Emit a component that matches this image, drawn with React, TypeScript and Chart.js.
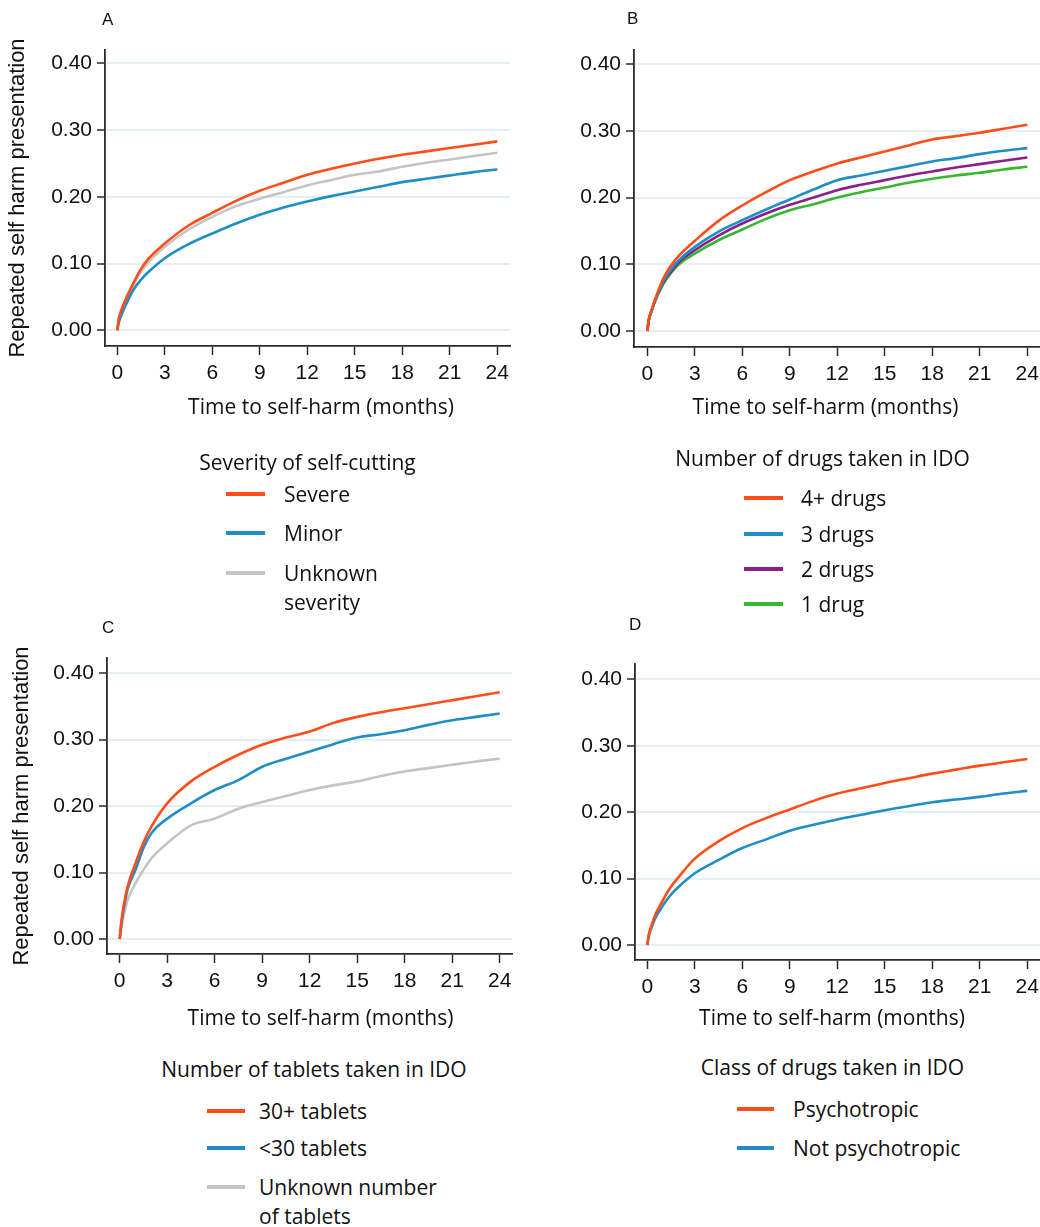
import React, { useEffect, useRef } from "react";
import { Chart, registerables } from "chart.js";

Chart.register(...registerables);

// ---------- data ----------
const TIMES = [0, 0.1, 0.25, 0.5, 1, 1.5, 2, 3, 4.5, 6, 7.5, 9, 10.5, 12, 13.5, 15, 16.5, 18, 19.5, 21, 22.5, 24];
const X_TICKS = [0, 3, 6, 9, 12, 15, 18, 21, 24];
const Y_TICKS = [0, 0.1, 0.2, 0.3, 0.4];

// Panel A: severity of self-cutting
const A_SEVERE = [0, 0.018, 0.03, 0.045, 0.07, 0.092, 0.108, 0.13, 0.157, 0.176, 0.194, 0.209, 0.221, 0.233, 0.242, 0.25, 0.257, 0.263, 0.268, 0.273, 0.278, 0.283];
const A_MINOR = [0, 0.012, 0.022, 0.036, 0.06, 0.076, 0.088, 0.108, 0.129, 0.145, 0.16, 0.173, 0.184, 0.193, 0.201, 0.208, 0.215, 0.222, 0.227, 0.232, 0.237, 0.241];
const A_UNKNOWN = [0, 0.016, 0.028, 0.043, 0.067, 0.088, 0.103, 0.125, 0.151, 0.17, 0.186, 0.197, 0.207, 0.217, 0.225, 0.233, 0.238, 0.245, 0.251, 0.256, 0.261, 0.266];

// Panel B: number of drugs taken
const B_4PLUS = [0, 0.018, 0.03, 0.048, 0.078, 0.098, 0.113, 0.135, 0.165, 0.188, 0.208, 0.226, 0.239, 0.251, 0.26, 0.269, 0.278, 0.287, 0.292, 0.297, 0.303, 0.309];
const B_3 = [0, 0.017, 0.029, 0.046, 0.074, 0.092, 0.106, 0.126, 0.149, 0.166, 0.182, 0.197, 0.212, 0.226, 0.233, 0.24, 0.247, 0.254, 0.259, 0.265, 0.27, 0.274];
const B_2 = [0, 0.017, 0.029, 0.046, 0.072, 0.089, 0.103, 0.121, 0.143, 0.161, 0.176, 0.189, 0.2, 0.211, 0.219, 0.226, 0.233, 0.239, 0.245, 0.25, 0.255, 0.26];
const B_1 = [0, 0.017, 0.028, 0.045, 0.07, 0.087, 0.1, 0.116, 0.136, 0.152, 0.168, 0.181, 0.19, 0.2, 0.208, 0.215, 0.222, 0.228, 0.233, 0.237, 0.242, 0.246];

// Panel C: number of tablets taken
const C_30PLUS = [0, 0.025, 0.05, 0.079, 0.114, 0.145, 0.169, 0.204, 0.237, 0.259, 0.277, 0.292, 0.303, 0.312, 0.325, 0.334, 0.341, 0.347, 0.353, 0.359, 0.365, 0.371];
const C_UNDER30 = [0, 0.022, 0.045, 0.075, 0.104, 0.137, 0.159, 0.181, 0.204, 0.224, 0.239, 0.259, 0.271, 0.282, 0.293, 0.303, 0.308, 0.314, 0.322, 0.329, 0.334, 0.339];
const C_UNKNOWN = [0, 0.015, 0.035, 0.059, 0.084, 0.104, 0.121, 0.144, 0.171, 0.181, 0.196, 0.206, 0.215, 0.224, 0.231, 0.237, 0.245, 0.252, 0.257, 0.262, 0.267, 0.271];

// Panel D: class of drugs taken
const D_PSYCH = [0, 0.016, 0.028, 0.045, 0.068, 0.088, 0.103, 0.13, 0.156, 0.176, 0.191, 0.204, 0.217, 0.228, 0.236, 0.244, 0.251, 0.258, 0.264, 0.27, 0.275, 0.28];
const D_NOTPSYCH = [0, 0.014, 0.025, 0.04, 0.06, 0.076, 0.088, 0.108, 0.128, 0.146, 0.159, 0.172, 0.181, 0.189, 0.196, 0.203, 0.209, 0.215, 0.219, 0.223, 0.228, 0.232];

// ---------- styles ----------
const ORANGE = "#ff4d1a";
const BLUE = "#1e8ec4";
const GRAY = "#c4c4c4";
const PURPLE = "#8a1f8c";
const GREEN = "#36b82e";

const SANS = "'Liberation Sans', Arial, sans-serif";
const HUMAN = "'Open Sans', Carlito, Calibri, Lato, sans-serif";
const TEXT_SIZE = 21;

type Series = { label: string; values: number[]; color: string };
type Panel = {
  key: string;
  canvas: { x: number; y: number; w: number; h: number };
  area: { l: number; t: number; r: number; b: number };
  x0: number; x24: number; y0: number; y40: number;
  yTitle: boolean; yTitlePad: number;
  series: Series[];
};

const PANELS: Panel[] = [
  {
    key: "A", canvas: { x: 0, y: 0, w: 520, h: 400 }, area: { l: 105, t: 50, r: 510, b: 346 },
    x0: 117.3, x24: 497.3, y0: 330.3, y40: 63.3, yTitle: true, yTitlePad: 5,
    series: [
      { label: "Severe", values: A_SEVERE, color: ORANGE },
      { label: "Minor", values: A_MINOR, color: BLUE },
      { label: "Unknown severity", values: A_UNKNOWN, color: GRAY },
    ],
  },
  {
    key: "B", canvas: { x: 520, y: 0, w: 520, h: 400 }, area: { l: 634, t: 50, r: 1040, b: 347 },
    x0: 647.3, x24: 1027.3, y0: 331, y40: 64, yTitle: false, yTitlePad: 5,
    series: [
      { label: "4+ drugs", values: B_4PLUS, color: ORANGE },
      { label: "3 drugs", values: B_3, color: BLUE },
      { label: "2 drugs", values: B_2, color: PURPLE },
      { label: "1 drug", values: B_1, color: GREEN },
    ],
  },
  {
    key: "C", canvas: { x: 0, y: 610, w: 520, h: 400 }, area: { l: 107, t: 658, r: 512, b: 954 },
    x0: 119.7, x24: 499.7, y0: 939, y40: 673, yTitle: true, yTitlePad: 9,
    series: [
      { label: "30+ tablets", values: C_30PLUS, color: ORANGE },
      { label: "<30 tablets", values: C_UNDER30, color: BLUE },
      { label: "Unknown number of tablets", values: C_UNKNOWN, color: GRAY },
    ],
  },
  {
    key: "D", canvas: { x: 520, y: 610, w: 520, h: 400 }, area: { l: 635, t: 664, r: 1040, b: 960 },
    x0: 647.3, x24: 1027.3, y0: 945, y40: 679.3, yTitle: false, yTitlePad: 5,
    series: [
      { label: "Psychotropic", values: D_PSYCH, color: ORANGE },
      { label: "Not psychotropic", values: D_NOTPSYCH, color: BLUE },
    ],
  },
];

const X_SCALE_H = 40;

function PanelChart({ p }: { p: Panel }) {
  const ref = useRef<HTMLCanvasElement | null>(null);
  useEffect(() => {
    if (!ref.current) return;
    const { canvas, area } = p;
    const ppm = (p.x24 - p.x0) / 24;
    const xmin = -(p.x0 - area.l) / ppm;
    const xmax = 24 + (area.r - p.x24) / ppm;
    const ppu = (p.y0 - p.y40) / 0.4;
    const ymin = -(area.b - p.y0) / ppu;
    const ymax = 0.4 + (p.y40 - area.t) / ppu;
    const yW = area.l - canvas.x;
    const padTop = area.t - canvas.y;
    const padRight = canvas.x + canvas.w - area.r;
    const padBottom = canvas.y + canvas.h - area.b - X_SCALE_H;

    const chart = new Chart(ref.current, {
      type: "line",
      data: {
        datasets: p.series.map((s) => ({
          label: s.label,
          data: TIMES.map((t, i) => ({ x: t, y: s.values[i] })),
          borderColor: s.color,
          backgroundColor: s.color,
          borderWidth: 2.6,
          pointRadius: 0,
          cubicInterpolationMode: "monotone" as const,
          fill: false,
        })),
      },
      options: {
        responsive: false,
        animation: false,
        devicePixelRatio: 1,
        layout: { padding: { left: 0, top: padTop, right: padRight, bottom: padBottom } },
        plugins: { legend: { display: false }, tooltip: { enabled: false }, title: { display: false } },
        scales: {
          x: {
            type: "linear",
            min: xmin,
            max: xmax,
            afterBuildTicks: (scale: any) => {
              scale.ticks = X_TICKS.map((v) => ({ value: v }));
            },
            afterFit: (scale: any) => {
              scale.height = X_SCALE_H;
              scale.paddingLeft = 0;
              scale.paddingRight = 0;
            },
            grid: { drawOnChartArea: false, drawTicks: true, tickLength: 9, tickColor: "#2a2a2a", tickWidth: 1.5 },
            border: { display: true, color: "#2a2a2a", width: 1.8 },
            ticks: {
              autoSkip: false,
              maxRotation: 0,
              padding: 6,
              color: "#111",
              font: { family: SANS, size: 21 },
              callback: (v: any) => String(v),
            },
          },
          y: {
            type: "linear",
            min: ymin,
            max: ymax,
            afterBuildTicks: (scale: any) => {
              scale.ticks = Y_TICKS.map((v) => ({ value: v }));
            },
            afterFit: (scale: any) => {
              scale.width = yW;
              scale.paddingTop = 0;
              scale.paddingBottom = 0;
            },
            grid: { drawOnChartArea: true, color: "#e5eef2", lineWidth: 2, drawTicks: true, tickLength: 8, tickColor: "#2a2a2a", tickWidth: 1.5 },
            border: { display: true, color: "#2a2a2a", width: 1.8 },
            ticks: {
              padding: 5,
              color: "#111",
              font: { family: SANS, size: 21 },
              callback: (v: any) => Number(v).toFixed(2),
            },
            title: {
              display: p.yTitle,
              text: "Repeated self harm presentation",
              color: "#111",
              font: { family: SANS, size: 22 },
              padding: { top: p.yTitlePad, bottom: 0 },
            },
          },
        },
      },
    });
    return () => chart.destroy();
  }, [p]);
  return (
    <canvas
      ref={ref}
      width={p.canvas.w}
      height={p.canvas.h}
      style={{ position: "absolute", left: p.canvas.x, top: p.canvas.y, width: p.canvas.w, height: p.canvas.h }}
    />
  );
}

function Txt({ x, y, text, size, family, center }: { x: number; y: number; text: string; size: number; family: string; center?: boolean }) {
  const lh = Math.round(size * 1.25);
  const style: React.CSSProperties = {
    position: "absolute",
    top: y - lh / 2,
    height: lh,
    lineHeight: `${lh}px`,
    fontSize: size,
    fontFamily: family,
    color: "#111",
    whiteSpace: "nowrap",
  };
  if (center) {
    style.left = x - 300;
    style.width = 600;
    style.textAlign = "center";
  } else {
    style.left = x;
  }
  return <div style={style}>{text}</div>;
}

function Swatch({ x1, x2, y, color }: { x1: number; x2: number; y: number; color: string }) {
  return <div style={{ position: "absolute", left: x1, top: y - 1.75, width: x2 - x1, height: 3.5, background: color }} />;
}

type LegendSpec = {
  title: string; titleX: number; titleY: number;
  sx1: number; sx2: number; tx: number;
  rows: { y: number; lines: string[]; color: string }[];
};

const LEGENDS: LegendSpec[] = [
  {
    title: "Severity of self-cutting", titleX: 307.5, titleY: 462, sx1: 226, sx2: 265, tx: 284,
    rows: [
      { y: 494, lines: ["Severe"], color: ORANGE },
      { y: 533, lines: ["Minor"], color: BLUE },
      { y: 573, lines: ["Unknown", "severity"], color: GRAY },
    ],
  },
  {
    title: "Number of drugs taken in IDO", titleX: 822.5, titleY: 458, sx1: 744, sx2: 783, tx: 801,
    rows: [
      { y: 498, lines: ["4+ drugs"], color: ORANGE },
      { y: 534, lines: ["3 drugs"], color: BLUE },
      { y: 569, lines: ["2 drugs"], color: PURPLE },
      { y: 604, lines: ["1 drug"], color: GREEN },
    ],
  },
  {
    title: "Number of tablets taken in IDO", titleX: 314, titleY: 1069, sx1: 207, sx2: 245, tx: 259,
    rows: [
      { y: 1111, lines: ["30+ tablets"], color: ORANGE },
      { y: 1148, lines: ["<30 tablets"], color: BLUE },
      { y: 1187, lines: ["Unknown number", "of tablets"], color: GRAY },
    ],
  },
  {
    title: "Class of drugs taken in IDO", titleX: 832.5, titleY: 1067, sx1: 737, sx2: 774, tx: 793,
    rows: [
      { y: 1109, lines: ["Psychotropic"], color: ORANGE },
      { y: 1148, lines: ["Not psychotropic"], color: BLUE },
    ],
  },
];

const LETTERS = [
  { t: "A", x: 102, y: 19 },
  { t: "B", x: 627, y: 18 },
  { t: "C", x: 102, y: 627 },
  { t: "D", x: 629, y: 624 },
];

const XTITLES = [
  { x: 321, y: 406 },
  { x: 825.5, y: 406 },
  { x: 320.5, y: 1017 },
  { x: 832, y: 1017 },
];

export default function App() {
  return (
    <div style={{ position: "absolute", left: 0, top: 0, width: 1040, height: 1227, background: "#fff", overflow: "hidden" }}>
      {PANELS.map((p) => (
        <PanelChart key={p.key} p={p} />
      ))}
      {LETTERS.map((l) => (
        <Txt key={l.t} x={l.x} y={l.y} text={l.t} size={17} family={SANS} />
      ))}
      {XTITLES.map((t, i) => (
        <Txt key={"xt" + i} x={t.x} y={t.y} text="Time to self-harm (months)" size={TEXT_SIZE} family={HUMAN} center />
      ))}
      {LEGENDS.map((lg, i) => (
        <React.Fragment key={"lg" + i}>
          <Txt x={lg.titleX} y={lg.titleY} text={lg.title} size={TEXT_SIZE} family={HUMAN} center />
          {lg.rows.map((r, j) => (
            <React.Fragment key={j}>
              <Swatch x1={lg.sx1} x2={lg.sx2} y={r.y} color={r.color} />
              {r.lines.map((ln, k) => (
                <Txt key={k} x={lg.tx} y={r.y + k * 29} text={ln} size={TEXT_SIZE} family={HUMAN} />
              ))}
            </React.Fragment>
          ))}
        </React.Fragment>
      ))}
    </div>
  );
}
